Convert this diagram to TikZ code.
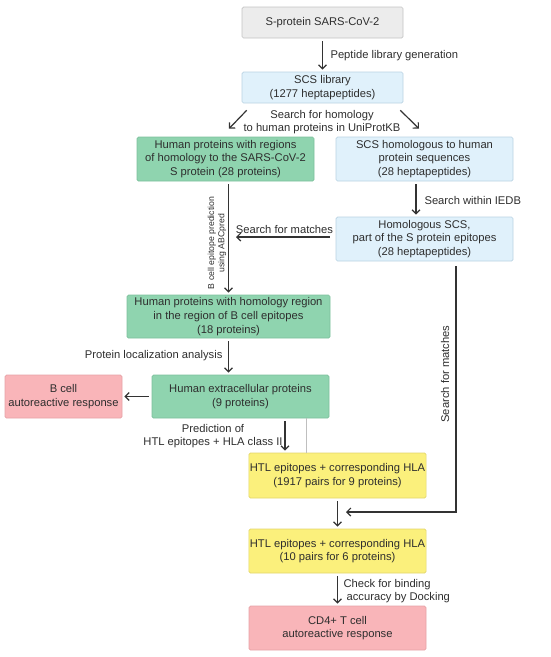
\documentclass[tikz,border=0pt]{standalone}
\usepackage{fontspec}
\setmainfont{Liberation Sans}
\usetikzlibrary{arrows.meta}

\definecolor{txtgray}{HTML}{2E2E2E}
\definecolor{greyfill}{HTML}{ECECEC}
\definecolor{greyline}{HTML}{C4C4C4}
\definecolor{bluefill}{HTML}{E0F1FB}
\definecolor{blueline}{HTML}{B9D2E2}
\definecolor{greenfill}{HTML}{8FD4AF}
\definecolor{greenline}{HTML}{7CC09C}
\definecolor{pinkfill}{HTML}{F9B5B9}
\definecolor{pinkline}{HTML}{E6A2A6}
\definecolor{yellowfill}{HTML}{FBF07C}
\definecolor{yellowline}{HTML}{E2D56C}

\begin{document}
\begin{tikzpicture}[x=1pt,y=-1pt,
	every node/.style={text=txtgray,font=\fontsize{11.2}{13.6}\selectfont},
	box/.style={draw,rounded corners=1.5pt,align=center,inner sep=1pt,line width=0.7pt},
	greybox/.style={box,fill=greyfill,draw=greyline},
	bluebox/.style={box,fill=bluefill,draw=blueline},
	greenbox/.style={box,fill=greenfill,draw=greenline},
	pinkbox/.style={box,fill=pinkfill,draw=pinkline},
	yellowbox/.style={box,fill=yellowfill,draw=yellowline},
	arr/.style={-{Straight Barb[length=4pt,width=8pt]},line width=1.2pt,draw=black!80,shorten <=3pt,shorten >=2pt},
	small/.style={font=\fontsize{8.7}{10}\selectfont,align=center}]

	\useasboundingbox (0,0) rectangle (550,657);

	% boxes
	\node[greybox,minimum width=161pt,minimum height=31pt] (spike) at (322.5,22.5) {S-protein SARS-CoV-2};
	\node[bluebox,minimum width=161pt,minimum height=31pt] (lib) at (322.5,87.5) {SCS library\\(1277 heptapeptides)};

	\node[greenbox,minimum width=177pt,minimum height=44pt] (hum) at (225.5,159) {Human proteins with regions\\of homology to the SARS-CoV-2\\S protein (28 proteins)};
	\node[bluebox,minimum width=177pt,minimum height=44pt] (scs) at (424.5,159) {SCS homologous to human\\protein sequences\\(28 heptapeptides)};
	\node[bluebox,minimum width=177pt,minimum height=44pt] (hom) at (424.5,239) {Homologous SCS,\\part of the S protein epitopes\\(28 heptapeptides)};

	\node[greenbox,minimum width=203pt,minimum height=43pt] (reg) at (228.5,316.5) {Human proteins with homology region\\in the region of B cell epitopes\\(18 proteins)};
	\node[greenbox,minimum width=177pt,minimum height=43pt] (ext) at (240.5,396.5) {Human extracellular proteins\\(9 proteins)};
	\node[pinkbox,minimum width=117pt,minimum height=43pt] (bcell) at (63.5,396.5) {B cell\\autoreactive response};

	\node[yellowbox,minimum width=177pt,minimum height=45pt] (htl) at (337.5,475.5) {HTL epitopes + corresponding HLA\\(1917 pairs for 9 proteins)};
	\node[yellowbox,minimum width=177pt,minimum height=44pt] (htlsel) at (337.5,551) {HTL epitopes + corresponding HLA\\(10 pairs for 6 proteins)};
	\node[pinkbox,minimum width=177pt,minimum height=44pt] (cd4) at (337.5,628) {CD4+ T cell\\autoreactive response};

	\coordinate (merge) at (346,512);

	% connectors
	\draw[arr] (spike) -- (lib);
	\node[anchor=west] (peplbl) at (327,56) {Peptide library generation};

	\draw[arr,shorten <=0pt,shorten >=0pt] ([xshift=5pt,yshift=-7pt]lib.south west) -- ([xshift=3.5pt,yshift=8pt]hum.north);
	\draw[arr,shorten <=0pt,shorten >=0pt] ([xshift=-3pt,yshift=-7pt]lib.south east) -- ([xshift=-5.5pt,yshift=8pt]scs.north);
	\node[align=center] (homlbl) at (322,122) {Search for homology\\to human proteins in UniProtKB};

	\draw[arr] ([xshift=-8.5pt]scs.south) -- ([xshift=-8.5pt]hom.north);
	\node[anchor=west] (iedblbl) at (421,200) {Search within IEDB};

	\draw[arr] (hum.south -| reg.north) -- (reg.north);
	\node[small,rotate=90] (abclbl) at (217,243) {B cell epitope prediction\\using ABCpred};

	\draw[arr,shorten <=6pt,shorten >=0pt] ([yshift=2pt]hom.west) -- ([yshift=2pt]hom.west -| 236,0);
	\node (matchlbl) at (284.5,229) {Search for matches};

	\draw[arr] (reg.south) -- (reg.south |- ext.north);
	\node[anchor=east] (loclbl) at (226,356) {Protein localization analysis};

	\draw[arr] (ext.west) -- (bcell.east);

	\draw[arr] ([xshift=44.5pt]ext.south) -- ([xshift=44.5pt]ext.south |- htl.north);
	\draw[black!25,line width=0.6pt] ([xshift=65.5pt]ext.south) -- ([xshift=65.5pt]ext.south |- htl.north);
	\node[align=center] (predlbl) at (213,436) {Prediction of\\HTL epitopes + HLA class II};

	\draw[arr] (htl) -- (htlsel);
	\draw[arr,shorten <=5pt,shorten >=0pt] ([xshift=31.5pt]hom.south) |- (merge);
	\node[rotate=90] (matchlbl2) at (445,374) {Search for matches};

	\draw[arr] (htlsel) -- (cd4);
	\node[anchor=west,align=left] (docklbl) at (340,591) {Check for binding\\\ accuracy by Docking};

\end{tikzpicture}
\end{document}
